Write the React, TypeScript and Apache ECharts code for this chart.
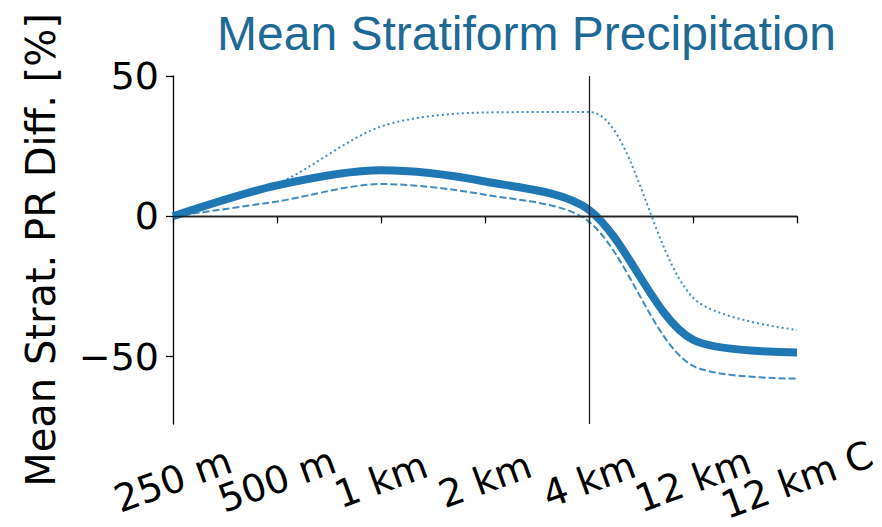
import React, { useEffect, useRef } from "react";
import * as echarts from "echarts";

const categories = ["250 m", "500 m", "1 km", "2 km", "4 km", "12 km", "12 km C"];
const meanDiff = [0, 11, 16.4, 12.4, 2.3, -44, -48.5];
const lowerDiff = [0, 5.3, 11.5, 7.7, -1.9, -53.3, -57.8];
const upperDiff = [0, 11.5, 32, 37, 37.2, -29, -40.5];
const yTicks = [-50, 0, 50];

const BLUE = "#1f77b4";
const FONT = "DejaVu Sans";

export default function App() {
  const ref = useRef<HTMLDivElement>(null);
  useEffect(() => {
    if (!ref.current) return;
    const chart = echarts.init(ref.current, null, { renderer: "svg" });
    chart.setOption({
      animation: false,
      backgroundColor: "#ffffff",
      title: {
        text: "Mean Stratiform Precipitation",
        left: 212,
        top: 4,
        textStyle: {
          color: "#1d6a96",
          fontSize: 48,
          fontWeight: "normal",
          fontFamily: "Liberation Sans, Arial, sans-serif",
        },
      },
      grid: { left: 173, right: 85, top: 76, bottom: 103, containLabel: false },
      xAxis: {
        type: "category",
        data: categories,
        boundaryGap: false,
        axisLine: { show: true, lineStyle: { color: "#000", width: 1.3 } },
        axisTick: { show: true, length: 7, lineStyle: { color: "#000", width: 1.3 } },
        axisLabel: {
          interval: 0,
          rotate: 20,
          align: "center",
          verticalAlign: "middle",
          margin: 56,
          color: "#000",
          fontSize: 38,
          fontFamily: FONT,
        },
        splitLine: { show: false },
      },
      yAxis: {
        type: "value",
        min: -74,
        max: 50,
        name: "Mean Strat. PR Diff. [%]",
        nameLocation: "middle",
        nameRotate: 90,
        nameGap: 112,
        nameTextStyle: { color: "#000", fontSize: 40, fontFamily: FONT },
        axisLine: { show: true, lineStyle: { color: "#000", width: 1.3 } },
        axisTick: { show: true, length: 7, customValues: yTicks, lineStyle: { color: "#000", width: 1.3 } },
        axisLabel: {
          customValues: yTicks,
          margin: 14,
          color: "#000",
          fontSize: 38,
          fontFamily: FONT,
          formatter: (v: number) => (v < 0 ? "\u2212" + Math.abs(v) : String(v)),
        },
        splitLine: { show: false },
      },
      series: [
        {
          type: "line",
          data: upperDiff,
          smooth: 0.3,
          showSymbol: false,
          lineStyle: { color: BLUE, width: 2, type: [2, 3], opacity: 0.85 },
          z: 2,
        },
        {
          type: "line",
          data: lowerDiff,
          smooth: 0.3,
          showSymbol: false,
          lineStyle: { color: BLUE, width: 2, type: [7, 3], opacity: 0.85 },
          z: 2,
        },
        {
          type: "line",
          data: meanDiff,
          smooth: 0.3,
          showSymbol: false,
          lineStyle: { color: BLUE, width: 8 },
          z: 3,
          markLine: {
            silent: true,
            symbol: ["none", "none"],
            label: { show: false },
            lineStyle: { color: "#222", width: 1.3, type: "solid" },
            data: [{ yAxis: 0 }, { xAxis: "4 km" }],
            z: 10,
          },
        },
      ],
    });
    return () => chart.dispose();
  }, []);
  return (
    <div
      ref={ref}
      style={{ position: "fixed", left: 0, top: 0, width: 882, height: 527 }}
    />
  );
}
